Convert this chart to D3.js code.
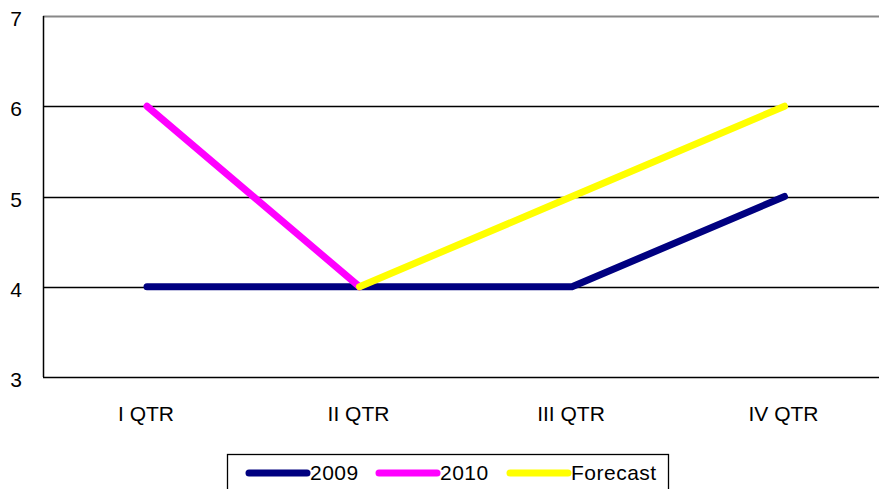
<!DOCTYPE html>
<html>
<head>
<meta charset="utf-8">
<script src="https://cdn.jsdelivr.net/npm/d3@7"></script>
<style>
  body { margin: 0; background: #fff; }
  svg { display: block; font-family: "Liberation Sans", Arial, sans-serif; }
</style>
</head>
<body>
<svg id="chart" width="879" height="489"></svg>
<script>
// data
const quarters = ["I QTR", "II QTR", "III QTR", "IV QTR"];
const series2009 = [4, 4, 4, 5];
const series2010 = [6, 4, null, null];
const seriesForecast = [null, 4, 5, 6];
const yTicks = [3, 4, 5, 6, 7];
const seriesNames = ["2009", "2010", "Forecast"];
const seriesColors = ["#000080", "#ff00ff", "#ffff00"];

const margin = { top: 16, left: 43 };
const width = 850;
const height = 361;

const svg = d3.select("#chart");
const container = svg.append("g")
  .attr("transform", `translate(${margin.left}, ${margin.top})`);

const xScale = d3.scalePoint().domain(quarters).range([104, 104 + 3 * 212.5]);
const yScale = d3.scaleLinear().domain([3, 7]).range([height, 0]);

// gridlines
container.selectAll("line.grid")
  .data(yTicks.filter((d) => d !== 3 && d !== 7))
  .join("line")
  .attr("class", "grid")
  .attr("x1", 0)
  .attr("x2", width)
  .attr("y1", (d) => Math.round(yScale(d)) + 0.5)
  .attr("y2", (d) => Math.round(yScale(d)) + 0.5)
  .attr("stroke", "#000")
  .attr("stroke-width", 1.3);

// top border (grey)
container.append("line")
  .attr("x1", 0).attr("x2", width)
  .attr("y1", 0.5).attr("y2", 0.5)
  .attr("stroke", "#888").attr("stroke-width", 2);

// axes
container.append("line")
  .attr("x1", 0.5).attr("x2", 0.5)
  .attr("y1", 0).attr("y2", height)
  .attr("stroke", "#000").attr("stroke-width", 1.5);
container.append("line")
  .attr("x1", 0).attr("x2", width)
  .attr("y1", height + 0.5).attr("y2", height + 0.5)
  .attr("stroke", "#000").attr("stroke-width", 1.5);

// y tick labels
container.selectAll("text.ytick")
  .data(yTicks)
  .join("text")
  .attr("class", "ytick")
  .attr("x", -21)
  .attr("y", (d) => yScale(d))
  .attr("dy", "0.48em")
  .attr("text-anchor", "end")
  .style("font-size", "21px")
  .text((d) => d);

// x labels
container.selectAll("text.xtick")
  .data(quarters)
  .join("text")
  .attr("class", "xtick")
  .attr("x", (d) => xScale(d) - 1)
  .attr("y", height + 44)
  .attr("text-anchor", "middle")
  .style("font-size", "21px")
  .text((d) => d);

// lines
const line = d3.line()
  .defined((d) => d != null)
  .x((d, i) => xScale(quarters[i]))
  .y((d) => yScale(d));

const allSeries = [series2009, series2010, seriesForecast];
container.selectAll("path.line")
  .data(allSeries)
  .join("path")
  .attr("class", "line")
  .attr("d", (d) => line(d))
  .attr("fill", "none")
  .attr("stroke", (d, i) => seriesColors[i])
  .attr("stroke-width", 7)
  .attr("stroke-linecap", "round")
  .attr("stroke-linejoin", "round");

// legend
const legend = svg.append("g").attr("transform", "translate(227, 454)");
legend.append("rect")
  .attr("x", 0.5).attr("y", 0.5)
  .attr("width", 441).attr("height", 50)
  .attr("fill", "#fff")
  .attr("stroke", "#000")
  .attr("stroke-width", 1.3);
const legendX = [22, 152, 283];
const items = legend.selectAll("g.item")
  .data(seriesNames)
  .join("g")
  .attr("class", "item")
  .attr("transform", (d, i) => `translate(${legendX[i]}, 19)`);
items.append("line")
  .attr("x1", 0).attr("x2", 58)
  .attr("stroke", (d, i) => seriesColors[i])
  .attr("stroke-width", 7)
  .attr("stroke-linecap", "round");
items.append("text")
  .attr("x", 61)
  .attr("y", 7)
  .style("font-size", "21px")
  .style("letter-spacing", "0.5px")
  .text((d) => d);
</script>
</body>
</html>
